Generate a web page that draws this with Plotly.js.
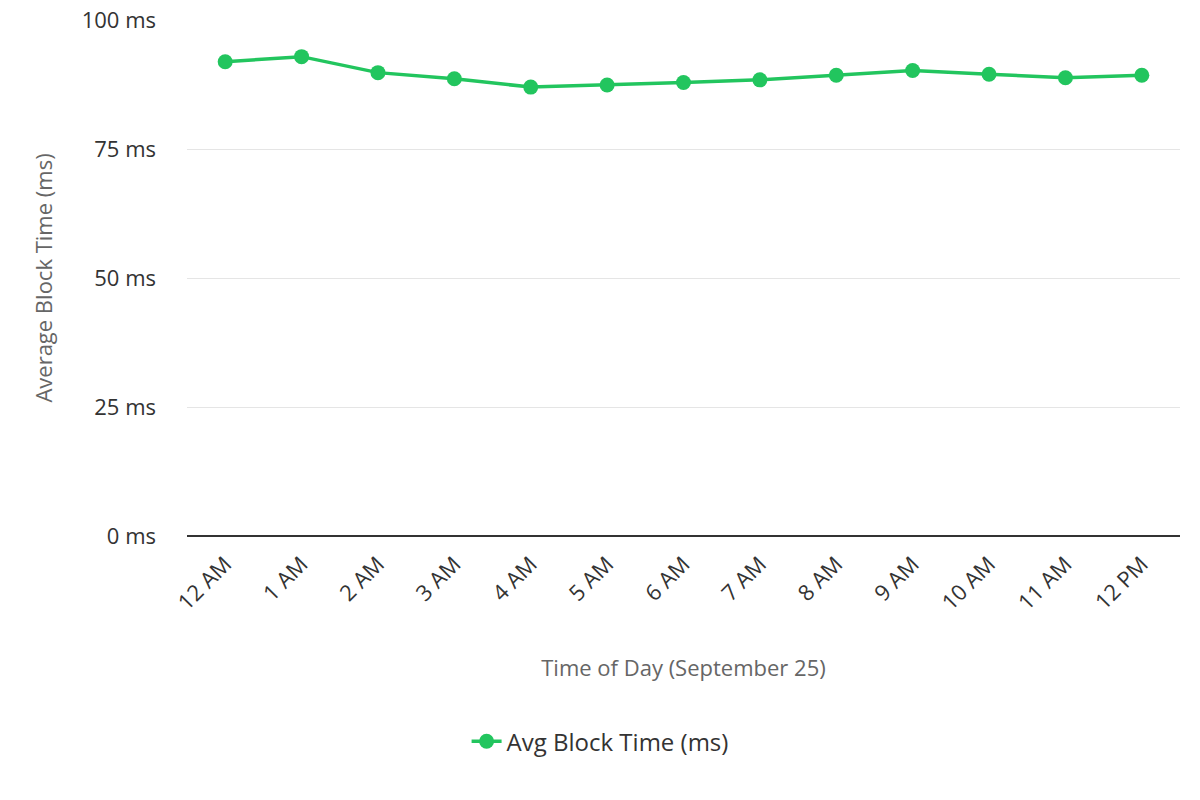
<!DOCTYPE html>
<html>
<head>
<meta charset="utf-8">
<script src="https://cdn.plot.ly/plotly-3.0.1.min.js"></script>
<style>html,body{margin:0;padding:0;background:#fff;}#chart{width:1200px;height:800px;}</style>
</head>
<body>
<div id="chart"></div>
<script>
const hours = ["12 AM","1 AM","2 AM","3 AM","4 AM","5 AM","6 AM","7 AM","8 AM","9 AM","10 AM","11 AM","12 PM"];
const avgBlockTime = [91.9, 92.9, 89.8, 88.6, 87.0, 87.4, 87.9, 88.4, 89.3, 90.2, 89.5, 88.8, 89.3];
const yTicks = [0, 25, 50, 75, 100];
const yTickLabels = yTicks.map(v => v + " ms");

const trace = {
  x: hours,
  y: avgBlockTime,
  type: "scatter",
  mode: "lines+markers",
  name: "Avg Block Time (ms)",
  line: {color: "#22c55e", width: 3.5},
  marker: {color: "#22c55e", size: 15}
};

const layout = {
  width: 1200,
  height: 800,
  margin: {l: 187, r: 20, t: 20, b: 264, autoexpand: false},
  paper_bgcolor: "#fff",
  plot_bgcolor: "#fff",
  font: {family: "Open Sans, sans-serif", size: 22, color: "#333"},
  showlegend: true,
  legend: {orientation: "h", x: 0.416, xanchor: "center", y: -0.355, yanchor: "top", font: {size: 24, color: "#333"}},
  xaxis: {
    type: "category",
    range: [-0.5, 12.5],
    tickangle: -45,
    tickfont: {size: 22, color: "#333"},
    showgrid: false,
    showline: false,
    zeroline: false,
    ticks: "",
    ticklabelstandoff: 10,
    title: {text: "Time of Day (September 25)", font: {size: 22, color: "#666"}, standoff: 45}
  },
  yaxis: {
    range: [0, 100],
    tickvals: yTicks,
    ticktext: yTickLabels,
    tickfont: {size: 22, color: "#333"},
    showgrid: true,
    gridcolor: "#e5e5e5",
    gridwidth: 1,
    zeroline: true,
    zerolinecolor: "#333",
    zerolinewidth: 2,
    showline: false,
    ticks: "",
    ticklabelstandoff: 30,
    title: {text: "Average Block Time (ms)", font: {size: 22, color: "#666"}, standoff: 22}
  }
};

Plotly.newPlot("chart", [trace], layout, {displayModeBar: false, responsive: false});
</script>
</body>
</html>
